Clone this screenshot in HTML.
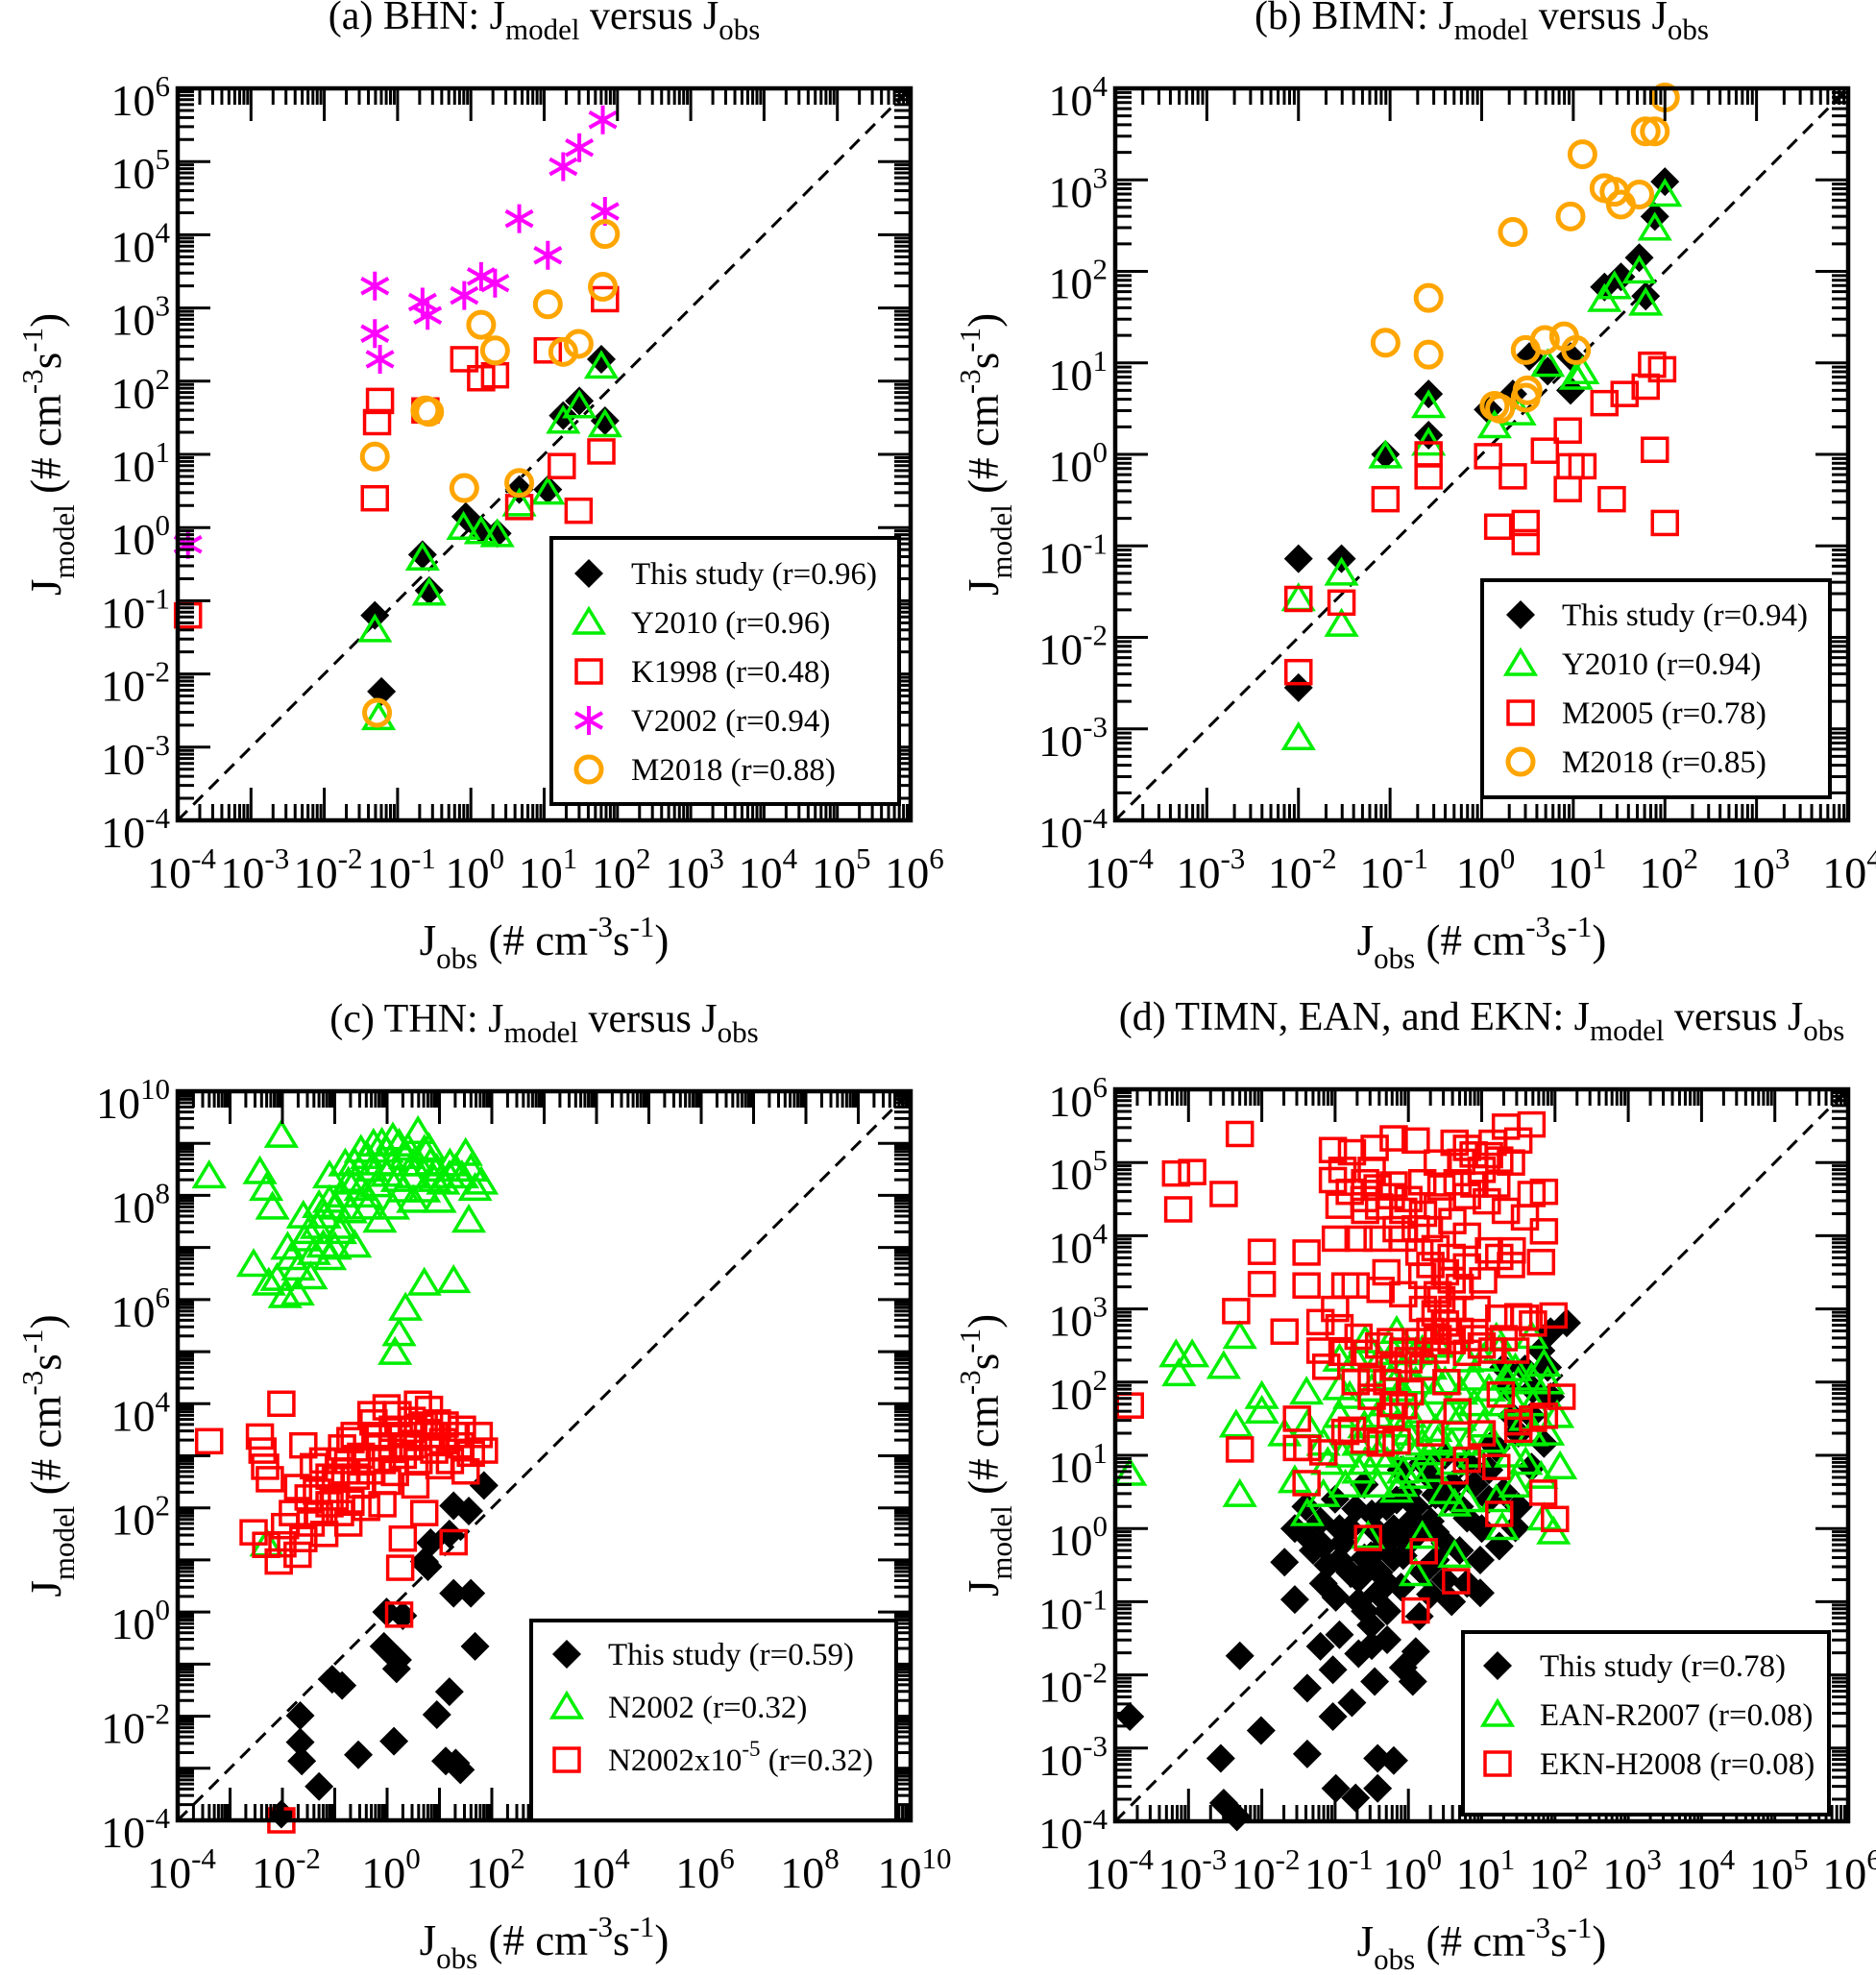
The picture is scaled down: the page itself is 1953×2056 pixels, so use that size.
<!DOCTYPE html>
<html><head><meta charset="utf-8">
<style>
html,body{margin:0;padding:0;background:#fff;}
svg{display:block;font-family:"Liberation Serif",serif;}
</style></head>
<body>
<svg id="fig" width="1953" height="2056" viewBox="0 0 1953 2056" xmlns="http://www.w3.org/2000/svg"></svg>
<script>
// ---------- DATA (log10 values: [log10 Jobs, log10 Jmodel]) ----------
// Panel (a) BHN
const aThis=[[-1.31,-1.2],[-1.22,-2.24],[-0.66,-0.37],[-0.57,-0.86],[-0.07,0.15],[0.14,-0.03],[0.36,-0.08],[0.66,0.52],[1.05,0.52],[1.26,1.53],[1.48,1.73],[1.78,2.3],[1.83,1.46]];
const aY2010=[[-1.31,-1.4],[-1.26,-2.6],[-0.66,-0.42],[-0.57,-0.9],[-0.1,0.0],[0.14,-0.06],[0.36,-0.1],[0.66,0.32],[1.05,0.48],[1.26,1.45],[1.48,1.66],[1.78,2.2],[1.83,1.4]];
const aK1998=[[-3.86,-1.2],[-1.31,0.4],[-1.28,1.44],[-1.24,1.73],[-0.62,1.6],[-0.09,2.3],[0.14,2.04],[0.33,2.08],[0.66,0.28],[1.05,2.42],[1.24,0.84],[1.47,0.23],[1.78,1.04],[1.83,3.12]];
const aV2002=[[-3.86,-0.23],[-1.31,3.3],[-1.31,2.65],[-1.24,2.3],[-0.66,3.08],[-0.59,2.9],[-0.09,3.17],[0.14,3.43],[0.33,3.34],[0.66,4.22],[1.05,3.72],[1.26,4.93],[1.48,5.19],[1.8,5.57],[1.83,4.32]];
const aM2018=[[-1.31,0.97],[-1.28,-2.53],[-0.62,1.6],[-0.57,1.58],[-0.09,0.54],[0.14,2.77],[0.33,2.42],[0.66,0.61],[1.05,3.05],[1.26,2.4],[1.47,2.51],[1.8,3.29],[1.83,4.01]];
// Panel (b) BIMN
const bThis=[[-2.0,-1.14],[-2.0,-2.55],[-1.53,-1.14],[-1.05,0.0],[-0.58,0.66],[-0.58,0.21],[0.07,0.49],[0.34,0.66],[0.52,1.07],[0.72,0.91],[0.97,1.07],[0.97,0.7],[1.34,1.83],[1.52,1.94],[1.72,2.15],[1.79,1.73],[1.89,2.6],[2.0,2.98]];
const bY2010=[[-2.0,-1.58],[-2.0,-3.1],[-1.53,-1.86],[-1.53,-1.3],[-1.05,-0.02],[-0.58,0.53],[-0.58,0.12],[0.14,0.31],[0.41,0.45],[0.72,0.98],[1.03,0.84],[1.1,0.9],[1.34,1.69],[1.45,1.83],[1.72,2.0],[1.79,1.65],[1.89,2.47],[2.0,2.84]];
const bM2005=[[-2.0,-1.58],[-2.0,-2.38],[-1.53,-1.62],[-1.05,-0.49],[-0.58,-0.24],[-0.58,0.0],[0.07,-0.02],[0.18,-0.79],[0.34,-0.24],[0.48,-0.96],[0.48,-0.75],[0.69,0.04],[0.94,0.26],[0.97,-0.13],[1.1,-0.13],[0.94,-0.38],[1.34,0.56],[1.42,-0.49],[1.56,0.66],[1.79,0.74],[1.89,0.05],[1.97,0.93],[2.0,-0.75],[1.86,0.98]];
const bM2018=[[-1.05,1.22],[-0.58,1.71],[-0.58,1.09],[0.14,0.53],[0.2,0.5],[0.34,2.43],[0.48,0.62],[0.48,1.14],[0.5,0.7],[0.69,1.25],[0.9,1.29],[0.97,2.6],[1.03,1.14],[1.1,3.28],[1.34,2.91],[1.45,2.87],[1.52,2.73],[1.72,2.84],[1.79,3.53],[1.89,3.53],[2.0,3.9]];
// Panel (c) THN
const cThis=[[-2.02,-3.88],[-1.66,-1.99],[-1.66,-2.5],[-1.63,-2.86],[-1.3,-3.35],[-1.05,-1.29],[-0.86,-1.41],[-0.55,-2.74],[-0.06,-0.66],[-0.01,0],[0.13,-2.48],[0.18,-1.09],[0.2,-0.92],[0.3,-0.07],[0.71,0.97],[0.78,0.87],[0.83,1.33],[0.95,-1.97],[1.12,-2.86],[1.19,-1.53],[1.27,0.36],[1.31,-2.9],[1.4,-3.03],[1.27,2.04],[1.56,1.94],[1.68,-0.66],[1.85,2.43],[1.19,1.5],[1.6,0.36]];
const cN2002=[[-3.4,8.37],[-2.02,9.15],[-2.43,8.45],[-2.31,8.13],[-2.19,7.77],[-2.55,6.67],[-2.26,6.31],[-1.95,6.07],[-1.71,6.12],[-1.46,6.43],[-1.58,7.16],[-1.83,6.8],[-1.22,7.04],[-1.34,7.4],[-0.98,7.77],[-0.86,8.0],[-0.74,8.25],[-1.1,8.37],[-0.62,8.62],[-0.5,8.86],[-0.38,8.74],[-0.26,8.98],[-0.14,8.62],[-0.01,8.86],[0.11,9.1],[0.23,8.98],[0.35,8.74],[0.47,8.37],[0.59,9.22],[0.71,8.86],[0.83,8.62],[0.95,8.5],[1.07,8.25],[1.19,8.37],[1.31,8.5],[1.43,8.37],[1.68,8.13],[1.8,8.25],[1.56,7.52],[1.27,6.36],[0.71,6.31],[0.35,5.83],[0.23,5.34],[0.15,4.98],[-0.14,7.52],[-0.62,7.04],[-1.1,6.8],[-0.38,7.77],[0.11,7.77],[-0.86,7.4],[-0.5,8.13],[-0.2,8.2],[0.0,8.4],[0.3,8.1],[-0.7,7.7],[-1.2,7.6],[-1.5,7.3],[-1.0,7.0],[0.5,7.9],[1.0,7.9],[0.8,8.9],[1.5,8.8],[-2.3,1.3],
 [-1.9,7.0],[-1.7,6.6],[-1.4,6.9],[-1.6,7.6],[-1.3,7.8],[-0.9,7.3],[-1.1,7.9],[-0.6,8.3],[-0.3,8.5],[0.1,8.6],[0.4,8.9],[0.6,8.6],[0.9,8.3],[1.2,8.6],[1.6,8.5],[-0.4,8.0],[-0.8,8.6],[0.2,8.3],[0.7,8.1],[-0.1,9.0],[0.5,8.6],[-2.1,6.4]];
const cN2002s=[[-3.4,3.28],[-2.43,3.37],[-2.38,3.1],[-2.33,2.79],[-2.24,2.55],[-2.02,4.0],[-2.55,1.53],[-2.31,1.29],[-2.07,0.97],[-1.95,1.65],[-1.71,1.1],[-1.46,1.7],[-1.34,2.31],[-1.22,2.91],[-1.1,2.07],[-0.98,2.55],[-0.86,3.16],[-0.74,1.7],[-0.62,3.4],[-0.5,2.43],[-0.38,2.91],[-0.26,3.64],[-0.14,3.16],[-0.09,2.07],[-0.01,3.93],[0.11,3.52],[0.15,2.67],[0.25,0.85],[0.3,1.41],[0.23,-0.05],[0.4,3.16],[0.47,3.69],[0.54,2.43],[0.59,4.0],[0.78,3.4],[0.71,1.9],[0.95,3.64],[1.07,3.28],[1.27,1.34],[1.31,3.4],[1.43,3.52],[1.6,3.04],[1.75,3.4],[1.85,3.1],[-1.6,3.2],[-1.4,2.8],[-1.0,2.2],[-0.7,2.1],[-0.4,2.0],[-1.8,1.9],[-2.0,1.3],[-1.6,1.4],[-1.2,1.5],[-0.5,3.0],[0.0,2.5],[0.3,3.0],[0.6,2.9],[0.9,3.1],[1.2,2.9],[1.5,2.7],[-0.2,3.4],[0.2,3.8],[0.5,3.5],[-0.8,2.7],[-2.02,-4.0],
 [-1.5,2.2],[-1.3,1.9],[-1.1,2.6],[-0.9,2.9],[-0.7,3.3],[-0.6,2.6],[-0.3,2.7],[-0.1,2.9],[0.1,3.2],[0.3,3.4],[0.5,3.2],[0.7,3.6],[0.9,3.4],[1.1,3.6],[1.4,3.2],[-0.9,1.9],[-1.7,2.4],[-0.3,3.8],[0.8,3.9],[1.0,2.8]];
// Panel (d) TIMN, EAN, EKN
const dThis=[[-3.8,-2.57],[-2.3,-1.74],[-2.56,-3.14],[-2.01,-2.76],[-2.52,-3.75],[-2.34,-3.94],[-1.38,-3.08],[-1.38,-2.18],[-1.03,-2.57],[-0.77,-2.38],[-1.03,-1.93],[-1.2,-1.61],[-0.94,-1.45],[-0.68,-1.71],[-0.46,-2.09],[-0.07,-1.9],[0.1,-1.68],[0.06,-2.09],[-0.99,-3.55],[-0.72,-3.68],[-0.42,-3.14],[-0.2,-3.17],[-0.42,-3.55],[-1.69,-0.46],[-1.55,-0.97],[-1.16,-0.75],[-0.99,-0.94],[-0.68,-1.0],[-0.51,-1.32],[-0.29,-1.13],[-0.68,-0.69],[-1.55,0.0],[-1.38,-0.11],[-1.16,-0.24],[-0.94,0.0],[-0.72,0.27],[-0.51,-0.37],[-0.29,-0.75],[-0.07,-0.37],[0.15,-0.05],[0.37,-0.43],[0.59,-1.0],[0.8,-0.75],[0.98,-0.88],[0.98,-0.43],[1.24,-0.24],[1.46,0.01],[1.68,0.84],[1.85,1.16],[1.59,2.18],[1.81,2.43],[1.94,2.69],[2.16,2.81],[1.68,1.54],[1.94,1.8],[-0.16,0.39],[0.37,0.46],[0.8,0.14],[0.15,-1.2],[-0.29,-1.52],[1.37,1.92],[1.41,1.54],[1.15,1.16],[0.8,0.9],[0.02,0.08],[0.37,-0.05],[-0.42,-0.05],[-0.94,-0.43],[-0.2,-0.4],[-0.59,-1.13],[-0.42,-0.88],[-0.3,0.3],[0.3,0.7],[0.6,0.6],[-0.6,0.6],[0.0,0.5],[-0.1,-0.8],[0.5,-0.2],[1.1,0.4],
 [-1.4,0.3],[-1.2,0.1],[-1.0,0.4],[-0.8,0.0],[-0.5,0.2],[-0.2,0.0],[0.1,0.3],[0.3,0.1],[0.5,0.4],[0.7,0.3],[0.9,0.6],[1.1,0.8],[1.3,0.5],[1.5,0.3],[1.2,1.1],[1.5,1.3],[1.7,1.9],[1.3,2.2],[1.9,2.2],[-0.9,-0.2],[-0.6,-0.4],[-0.3,-0.2],[0.0,-0.2],[0.2,-0.6],[0.5,-0.7],[-0.4,-0.6],[-0.8,-0.6],[-0.1,0.8],[0.2,0.9],[0.5,1.0],[-1.1,-0.5],[-0.5,-1.6],[0.3,-0.9],[0.7,-0.3],[1.0,0.0],[-1.3,-0.3]];
const dEAN=[[-3.8,0.75],[-3.17,2.37],[-2.95,2.37],[-3.13,2.11],[-2.52,2.21],[-2.3,2.62],[-2.0,1.8],[-2.0,1.6],[-2.35,1.41],[-2.3,0.46],[-1.39,1.86],[-1.69,1.29],[-1.38,1.41],[-1.55,0.65],[-1.38,0.2],[-1.16,0.46],[-0.94,2.31],[-0.94,1.92],[-0.72,2.31],[-0.59,2.56],[-0.68,0.78],[-0.86,0.59],[-0.59,0.9],[-0.42,0.59],[-0.29,0.9],[-0.16,0.52],[-0.07,0.78],[0.1,0.71],[0.19,1.16],[0.37,1.35],[0.54,1.6],[0.72,1.86],[0.89,2.05],[1.02,2.31],[1.24,2.43],[1.46,2.18],[1.68,2.05],[1.85,2.24],[2.03,1.54],[2.07,0.84],[1.85,0.14],[1.98,-0.05],[1.81,0.71],[1.46,0.59],[1.28,0.01],[1.2,0.39],[0.8,0.39],[0.63,0.33],[0.63,-0.37],[0.1,-0.62],[0.19,-0.11],[-0.55,-0.11],[-0.16,1.41],[0.02,1.54],[-0.42,1.54],[0.37,1.86],[0.28,1.03],[0.8,1.16],[1.02,1.41],[1.46,1.67],[1.68,1.29],[-0.16,2.69],[0.19,2.43],[1.68,2.62],[1.33,2.05],[-0.24,2.05],[-0.07,2.18],[0.59,1.16],[0.02,1.1],[-0.68,1.16],[-0.94,1.54],[-1.16,1.16],
 [-0.8,1.8],[-0.5,1.9],[-0.3,1.7],[-0.1,1.9],[0.1,2.0],[0.3,2.2],[0.5,2.0],[0.7,1.5],[0.9,1.7],[1.1,1.9],[1.3,1.7],[1.5,2.0],[1.7,1.7],[1.9,2.0],[-0.6,1.4],[-0.3,1.2],[0.0,1.3],[0.2,1.6],[0.4,1.2],[0.6,0.9],[0.9,1.0],[1.1,1.2],[1.4,1.0],[1.6,0.9],[-0.4,1.0],[-0.1,0.6],[0.3,0.8],[0.5,0.5],[-0.9,1.0],[-1.1,0.9],[0.1,2.4],[0.4,2.5],[0.8,2.3],[1.2,2.6],[-0.4,2.3],[1.9,1.3],[1.6,1.5],[-0.2,2.4]];
const dEKN=[[-2.3,5.39],[-3.17,4.85],[-2.95,4.87],[-3.14,4.36],[-2.52,4.57],[-2.0,3.78],[-2.0,3.34],[-1.39,3.77],[-1.39,3.32],[-2.35,2.97],[-1.69,2.69],[-3.8,1.68],[-2.3,1.08],[-1.52,1.5],[-1.52,1.1],[-1.38,1.1],[-1.16,1.04],[-1.39,0.62],[-0.55,-0.13],[0.21,-0.31],[0.65,-0.72],[0.1,-1.12],[1.24,0.2],[1.84,0.49],[2.0,0.13],[1.2,0.84],[0.63,0.78],[0.8,0.94],[2.09,1.8],[1.85,1.54],[1.5,1.35],[1.5,1.45],[1.26,1.83],[0.67,1.6],[0.52,2.0],[-0.72,2.0],[-0.5,2.05],[-0.29,2.0],[-0.07,1.67],[0.02,1.86],[-0.38,1.16],[-0.16,1.19],[-0.86,1.32],[-0.77,1.35],[-0.24,1.54],[-1.2,2.82],[-1.2,2.43],[-1.12,2.21],[-0.94,2.75],[-0.68,2.62],[-0.86,3.32],[-0.72,3.32],[-0.38,3.26],[-0.07,3.2],[-0.24,2.56],[-0.07,2.43],[0.15,2.56],[0.37,2.43],[0.59,2.56],[1.15,2.43],[1.46,2.43],[1.59,2.88],[1.98,2.91],[1.24,2.88],[0.93,3.0],[-1.03,5.17],[-1.03,4.76],[-0.77,5.14],[-0.46,5.2],[-0.2,5.33],[0.1,5.3],[0.63,5.27],[0.89,5.11],[1.15,5.27],[1.33,5.49],[1.68,5.52],[1.24,5.04],[0.72,5.01],[-0.59,4.73],[-0.42,4.66],[-0.24,4.54],[-0.07,4.34],[-0.59,4.34],[-0.94,4.41],[-0.99,3.96],[-0.68,3.96],[-0.42,3.96],[-0.07,3.96],[0.19,4.73],[0.45,4.66],[0.67,4.73],[0.8,4.54],[1.07,4.47],[1.33,4.34],[1.59,4.25],[1.85,4.6],[1.68,4.57],[1.85,4.06],[1.81,3.64],[1.41,3.8],[1.24,3.71],[0.15,3.77],[0.37,3.83],[0.59,3.71],[0.8,3.58],[0.59,3.39],[0.45,3.13],[0.37,2.94],[0.54,2.69],[0.19,3.45],[1.02,3.39],[-0.16,4.09],[0.28,4.09],
 [-0.8,4.6],[-0.6,4.5],[-0.4,4.4],[-0.2,4.7],[0.0,4.5],[0.2,4.3],[0.4,4.4],[0.6,4.2],[0.9,4.7],[1.0,4.9],[1.2,4.7],[1.4,5.0],[1.5,5.3],[1.1,5.1],[0.8,5.2],[0.4,5.0],[-0.5,4.9],[-0.9,4.9],[0.3,3.6],[0.5,3.5],[0.7,3.3],[0.4,3.2],[0.6,3.0],[0.5,2.8],[0.2,3.0],[0.3,2.7],[0.7,2.7],[0.9,2.6],[1.3,2.6],[1.7,2.8],[1.5,2.9],[-0.9,2.4],[-0.6,2.4],[-0.4,2.5],[-0.2,2.2],[0.0,2.3],[0.2,2.2],[0.4,2.6],[0.8,2.4],[1.0,2.5],[-0.5,1.8],[-0.2,1.7],[-0.6,1.2],[0.3,1.3],[1.7,1.5],[1.0,1.3],[0.1,4.1],[0.8,4.0],[1.1,3.8],[1.4,3.6],[-0.3,3.5],[-1.0,3.0]];

// ---------- drawing ----------
const NS='http://www.w3.org/2000/svg';
const svg=document.getElementById('fig');
function mk(tag,attrs,parent){const e=document.createElementNS(NS,tag);for(const k in attrs)e.setAttribute(k,attrs[k]);(parent||svg).appendChild(e);return e;}

function powLabel(g,x,y,exp,anchor,fs){
  const t=mk('text',{x:x,y:y,'font-size':fs,'text-anchor':anchor,fill:'#000'},g);
  
  
  t.appendChild(document.createTextNode('10'));
  const s=mk('tspan',{dy:-20,'font-size':Math.round(fs*0.68)},t);
  s.textContent=String(exp);
  return t;
}

function marker(g,type,px,py){
  let e;
  if(type==='diamond'){e=mk('polygon',{points:`${px},${py-15} ${px+15},${py} ${px},${py+15} ${px-15},${py}`,fill:'#000'},g);}
  else if(type==='tri'){e=mk('polygon',{points:`${px},${py-14} ${px+15},${py+11} ${px-15},${py+11}`,fill:'none',stroke:'#00ee00','stroke-width':3.5},g);}
  else if(type==='sq'){e=mk('rect',{x:px-13,y:py-12,width:26,height:24,fill:'none',stroke:'#ff0000','stroke-width':3.5},g);}
  else if(type==='circ'){e=mk('circle',{cx:px,cy:py,r:13,fill:'none',stroke:'#ffa500','stroke-width':5},g);}
  else if(type==='star'){e=mk('path',{d:`M${px},${py-15}V${py+15}M${px-14},${py-8}L${px+14},${py+8}M${px-14},${py+8}L${px+14},${py-8}`,stroke:'#ff00ff','stroke-width':4,fill:'none'},g);}
  return e;
}

function panel(cfg){
  const g=mk('g',{});
  
  
  const {L,R,T,B,xmin,xmax,ymin,ymax}=cfg;
  const sx=v=>L+(v-xmin)/(xmax-xmin)*(R-L);
  const sy=v=>B-(v-ymin)/(ymax-ymin)*(B-T);
  const lo=Math.max(xmin,ymin),hi=Math.min(xmax,ymax);
  const dl=mk('line',{x1:sx(lo),y1:sy(lo),x2:sx(hi),y2:sy(hi),stroke:'#000','stroke-width':3,'stroke-dasharray':'14,9'},g);
  
  
  cfg.series.forEach(s=>{
    const sg=mk('g',{},g);
    
    
    s.data.forEach(p=>{
      const m=marker(sg,s.type,sx(p[0]),sy(p[1]));
      
      
    });
  });
  const tg=mk('g',{stroke:'#000','stroke-width':3},g);
  
  
  for(let d=xmin;d<=xmax;d++){
    for(let k=1;k<=9;k++){
      const v=d+Math.log10(k); if(v>xmax)break;
      const len=k===1?34:17,x=sx(v);
      mk('line',{x1:x,y1:B,x2:x,y2:B-len},tg);
      mk('line',{x1:x,y1:T,x2:x,y2:T+len},tg);
    }
  }
  for(let d=ymin;d<=ymax;d++){
    for(let k=1;k<=9;k++){
      const v=d+Math.log10(k); if(v>ymax)break;
      const len=k===1?34:17,y=sy(v);
      mk('line',{x1:L,y1:y,x2:L+len,y2:y},tg);
      mk('line',{x1:R,y1:y,x2:R-len,y2:y},tg);
    }
  }
  const fr=mk('rect',{x:L,y:T,width:R-L,height:B-T,fill:'none',stroke:'#000','stroke-width':4.5},g);
  
  
  for(let d=xmin;d<=xmax;d+=cfg.xstep) powLabel(g,sx(d)+4,B+70,d,'middle',46);
  for(let d=ymin;d<=ymax;d+=cfg.ystep) powLabel(g,L-8,sy(d)+28,d,'end',46);
  const tt=mk('text',{x:(L+R)/2,y:T-62,'font-size':42,'text-anchor':'middle'},g);
  
  
  tt.innerHTML=cfg.title+'J<tspan dy="11" font-size="31">model</tspan><tspan dy="-11"> versus J</tspan><tspan dy="11" font-size="31">obs</tspan>';
  const xt=mk('text',{x:(L+R)/2,y:B+140,'font-size':45,'text-anchor':'middle'},g);
  
  
  xt.innerHTML='J<tspan dy="14" font-size="31">obs</tspan><tspan dy="-14"> (# cm</tspan><tspan dy="-19" font-size="31">-3</tspan><tspan dy="19">s</tspan><tspan dy="-19" font-size="31">-1</tspan><tspan dy="19">)</tspan>';
  const cy=(T+B)/2;
  const yt=mk('text',{x:0,y:0,'font-size':45,'text-anchor':'middle',transform:`translate(${L-122},${cy}) rotate(-90)`},g);
  
  
  yt.innerHTML='J<tspan dy="14" font-size="31">model</tspan><tspan dy="-14"> (# cm</tspan><tspan dy="-19" font-size="31">-3</tspan><tspan dy="19">s</tspan><tspan dy="-19" font-size="31">-1</tspan><tspan dy="19">)</tspan>';
  const lg=cfg.legend;
  const lgG=mk('g',{},g);
  
  
  mk('rect',{x:lg.x,y:lg.y,width:lg.w,height:lg.h,fill:'#fff',stroke:'#000','stroke-width':4},lgG);
  lg.items.forEach((it,i)=>{
    const yy=lg.y0+i*lg.dy;
    const e=mk('g',{},lgG);
    
    
    marker(e,it[0],lg.x+lg.mx,yy);
    const t=mk('text',{x:lg.x+lg.tx,y:yy+11,'font-size':33},e);
    t.innerHTML=it[1];
  });
}

panel({name:'panel-a-bhn',title:'(a) BHN: ',L:185,R:948,T:92,B:854,xmin:-4,xmax:6,ymin:-4,ymax:6,xstep:1,ystep:1,
  series:[{name:'this-study',type:'diamond',data:aThis},{name:'y2010',type:'tri',data:aY2010},{name:'k1998',type:'sq',data:aK1998},{name:'v2002',type:'star',data:aV2002},{name:'m2018',type:'circ',data:aM2018}],
  legend:{x:574,y:560,w:362,h:277,y0:597,dy:51,mx:39,tx:83,items:[['diamond','This study (r=0.96)'],['tri','Y2010 (r=0.96)'],['sq','K1998 (r=0.48)'],['star','V2002 (r=0.94)'],['circ','M2018 (r=0.88)']]}});
panel({name:'panel-b-bimn',title:'(b) BIMN: ',L:1161,R:1924,T:92,B:854,xmin:-4,xmax:4,ymin:-4,ymax:4,xstep:1,ystep:1,
  series:[{name:'this-study',type:'diamond',data:bThis},{name:'y2010',type:'tri',data:bY2010},{name:'m2005',type:'sq',data:bM2005},{name:'m2018',type:'circ',data:bM2018}],
  legend:{x:1543,y:604,w:362,h:226,y0:640,dy:51,mx:40,tx:83,items:[['diamond','This study (r=0.94)'],['tri','Y2010 (r=0.94)'],['sq','M2005 (r=0.78)'],['circ','M2018 (r=0.85)']]}});
panel({name:'panel-c-thn',title:'(c) THN: ',L:185,R:948,T:1136,B:1895,xmin:-4,xmax:10,ymin:-4,ymax:10,xstep:2,ystep:2,
  series:[{name:'this-study',type:'diamond',data:cThis},{name:'n2002',type:'tri',data:cN2002},{name:'n2002-scaled',type:'sq',data:cN2002s}],
  legend:{x:553,y:1687,w:380,h:208,y0:1722,dy:55,mx:37,tx:80,items:[['diamond','This study (r=0.59)'],['tri','N2002 (r=0.32)'],['sq','N2002x10<tspan dy="-15" font-size="23">-5</tspan><tspan dy="15"> (r=0.32)</tspan>']]}});
panel({name:'panel-d-timn-ean-ekn',title:'(d) TIMN, EAN, and EKN: ',L:1161,R:1924,T:1134,B:1896,xmin:-4,xmax:6,ymin:-4,ymax:6,xstep:1,ystep:1,
  series:[{name:'this-study',type:'diamond',data:dThis},{name:'ean-r2007',type:'tri',data:dEAN},{name:'ekn-h2008',type:'sq',data:dEKN}],
  legend:{x:1523,y:1699,w:381,h:190,y0:1734,dy:51,mx:36,tx:80,items:[['diamond','This study (r=0.78)'],['tri','EAN-R2007 (r=0.08)'],['sq','EKN-H2008 (r=0.08)']]}});
</script>
</body></html>
